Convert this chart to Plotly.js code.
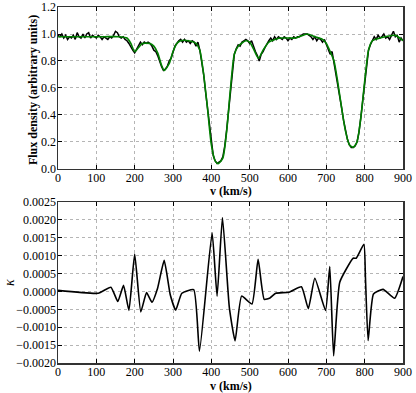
<!DOCTYPE html>
<html>
<head>
<meta charset="utf-8">
<script src="https://cdn.plot.ly/plotly-3.0.1.min.js"></script>
<style>
  html, body { margin: 0; padding: 0; background: #fff; }
  #chart { width: 416px; height: 393px; }
</style>
</head>
<body>
<div id="chart"></div>
<script>
// Observed spectrum, sampled every 5 km/s from 0 to 900
const fluxStep = 5;
const fluxObserved = [
  0.99, 0.98, 1.00, 0.97, 0.99, 0.96, 0.98, 0.97, 0.99, 0.96,
  1.01, 0.98, 0.97, 1.00, 0.97, 1.00, 1.01, 0.97, 0.99, 0.98,
  0.97, 0.99, 0.98, 0.96, 0.98, 0.97, 0.96, 0.98, 0.97, 0.99,
  1.02, 1.01, 0.98, 0.97, 0.98, 0.96, 0.95, 0.93, 0.90, 0.88,
  0.86, 0.89, 0.92, 0.94, 0.92, 0.94, 0.93, 0.94, 0.93, 0.91,
  0.88, 0.87, 0.84, 0.79, 0.76, 0.73, 0.74, 0.76, 0.80, 0.82,
  0.87, 0.91, 0.93, 0.95, 0.96, 0.94, 0.96, 0.94, 0.95, 0.93,
  0.95, 0.94, 0.91, 0.94, 0.88, 0.80, 0.70, 0.57, 0.45, 0.31,
  0.18, 0.10, 0.06, 0.04, 0.05, 0.06, 0.09, 0.17, 0.29, 0.44,
  0.60, 0.74, 0.85, 0.89, 0.92, 0.91, 0.94, 0.95, 0.96, 0.95,
  0.93, 0.95, 0.90, 0.87, 0.84, 0.80, 0.85, 0.87, 0.90, 0.93,
  0.95, 0.97, 0.95, 0.98, 0.96, 0.98, 0.97, 0.96, 0.98, 0.97,
  0.95, 0.97, 0.96, 0.98, 0.97, 0.98, 0.98, 0.99, 1.00, 1.00,
  1.00, 0.99, 0.98, 0.96, 0.98, 0.95, 0.97, 0.96, 0.94, 0.96,
  0.92, 0.89, 0.85, 0.87, 0.79, 0.72, 0.63, 0.54, 0.45, 0.36,
  0.28, 0.22, 0.18, 0.16, 0.16, 0.17, 0.20, 0.27, 0.38, 0.51,
  0.65, 0.78, 0.88, 0.92, 0.95, 0.98, 0.96, 0.99, 0.97, 0.98,
  1.00, 0.97, 0.98, 0.96, 0.99, 1.02, 0.98, 0.99, 0.94, 0.97,
  0.95
];
const vObserved = fluxObserved.map((_, i) => i * fluxStep);

// Smoothed model spectrum
const vModel = [
  0, 60, 120, 160, 180, 190, 200, 210, 220, 240, 250, 260, 270, 277, 290,
  300, 310, 320, 340, 360, 370, 380, 390, 400, 410, 418, 430, 440, 450, 460,
  470, 490, 500, 510, 523, 535, 550, 580, 620, 650, 670, 690, 700, 710, 720,
  730, 740, 750, 760, 770, 780, 790, 800, 810, 820, 840, 880, 900
];
const fluxModel = [
  0.98, 0.98, 0.98, 0.98, 0.97, 0.93, 0.87, 0.90, 0.93, 0.93, 0.91, 0.86, 0.77, 0.73, 0.78,
  0.87, 0.93, 0.95, 0.95, 0.93, 0.88, 0.70, 0.45, 0.18, 0.06, 0.04, 0.08, 0.28, 0.60, 0.85,
  0.91, 0.95, 0.94, 0.89, 0.82, 0.88, 0.94, 0.97, 0.97, 1.00, 0.98, 0.96, 0.93, 0.87, 0.80,
  0.64, 0.45, 0.28, 0.18, 0.16, 0.20, 0.38, 0.65, 0.88, 0.95, 0.97, 0.99, 0.95
];

// Kappa curve
const vKappa = [
  0, 105, 138, 156, 171, 185, 200, 216, 231, 245, 260, 277, 293, 307, 323,
  354, 369, 402, 415, 429, 447, 462, 479, 506, 522, 538, 553, 568, 603, 635,
  653, 670, 698, 709, 719, 735, 770, 778, 798, 802, 809, 823, 848, 878, 900
];
const kappa = [
  0.00003, -0.00005, 0.00012, -0.00028, 0.00017, -0.00053, 0.00105, -0.00057, -0.00003, -0.00030,
  0.00010, 0.00087, -0.00010, -0.00052, -0.00005, 0.00005, -0.00167, 0.00164, -0.00013, 0.00207,
  -0.00045, -0.00138, -0.00013, -0.00035, 0.00090, -0.00022, -0.00018, -0.00005, -0.00002, 0.00013,
  -0.00048, 0.00037, -0.00053, 0.00070, -0.00180, 0.00026, 0.00093, 0.00093, 0.00132, 0.00040,
  -0.00137, -0.00007, 0.00006, -0.00019, 0.00042
];

const serif = '"Liberation Serif", "DejaVu Serif", serif';
const tickFont = { family: serif, size: 12, color: '#000' };
const titleFont = { family: serif, size: 12, color: '#000' };

const axisBase = {
  showline: true,
  mirror: 'ticks',
  linecolor: '#333',
  linewidth: 1.5,
  ticks: 'inside',
  ticklen: 4,
  tickcolor: '#000',
  showgrid: true,
  gridcolor: '#b5b5b5',
  griddash: 'dot',
  gridwidth: 1,
  zeroline: false,
  tickfont: tickFont,
  automargin: false,
};

const traces = [
  {
    x: vObserved, y: fluxObserved, xaxis: 'x', yaxis: 'y',
    mode: 'lines', line: { color: '#000', width: 1.5 }, hoverinfo: 'skip',
  },
  {
    x: vModel, y: fluxModel, xaxis: 'x', yaxis: 'y',
    mode: 'lines', line: { color: '#008000', width: 1.6, shape: 'spline', smoothing: 0.6 }, hoverinfo: 'skip',
  },
  {
    x: vKappa, y: kappa, xaxis: 'x2', yaxis: 'y2',
    mode: 'lines', line: { color: '#000', width: 1.6, shape: 'spline', smoothing: 0.45 }, hoverinfo: 'skip',
  },
];

// axis titles placed as annotations so they sit where the original puts them
const annotations = [
  { text: '<b>v (km/s)</b>', x: 0.5, y: 0.482, xanchor: 'center', yanchor: 'middle' },
  { text: '<b>v (km/s)</b>', x: 0.5, y: -0.064, xanchor: 'center', yanchor: 'middle' },
  { text: '<b>Flux density (arbitrary units)</b>', x: -0.073, y: 0.766, xanchor: 'center', yanchor: 'middle', textangle: -90 },
  { text: '<i>κ</i>', x: -0.139, y: 0.225, xanchor: 'center', yanchor: 'middle', textangle: -90, font: { family: serif, size: 14, color: '#000' } },
].map(a => ({ xref: 'paper', yref: 'paper', showarrow: false, font: titleFont, ...a }));

const layout = {
  width: 416,
  height: 393,
  showlegend: false,
  paper_bgcolor: '#fff',
  plot_bgcolor: '#fff',
  margin: { t: 7, r: 13, b: 30, l: 58 },
  annotations,
  xaxis: { ...axisBase, anchor: 'y', domain: [0, 1], range: [0, 900], dtick: 100, ticklabelstandoff: -3 },
  yaxis: { ...axisBase, anchor: 'x', domain: [0.545, 1], range: [0, 1.2], dtick: 0.2, tickformat: '.1f', ticklabelstandoff: -2 },
  xaxis2: { ...axisBase, anchor: 'y2', domain: [0, 1], range: [0, 900], dtick: 100, ticklabelstandoff: -3 },
  yaxis2: { ...axisBase, anchor: 'x2', domain: [0, 0.452], range: [-0.002, 0.0025], dtick: 0.0005, tickformat: '.4f', ticklabelstandoff: -2 },
};

Plotly.newPlot('chart', traces, layout, { displayModeBar: false, staticPlot: true });
</script>
</body>
</html>
